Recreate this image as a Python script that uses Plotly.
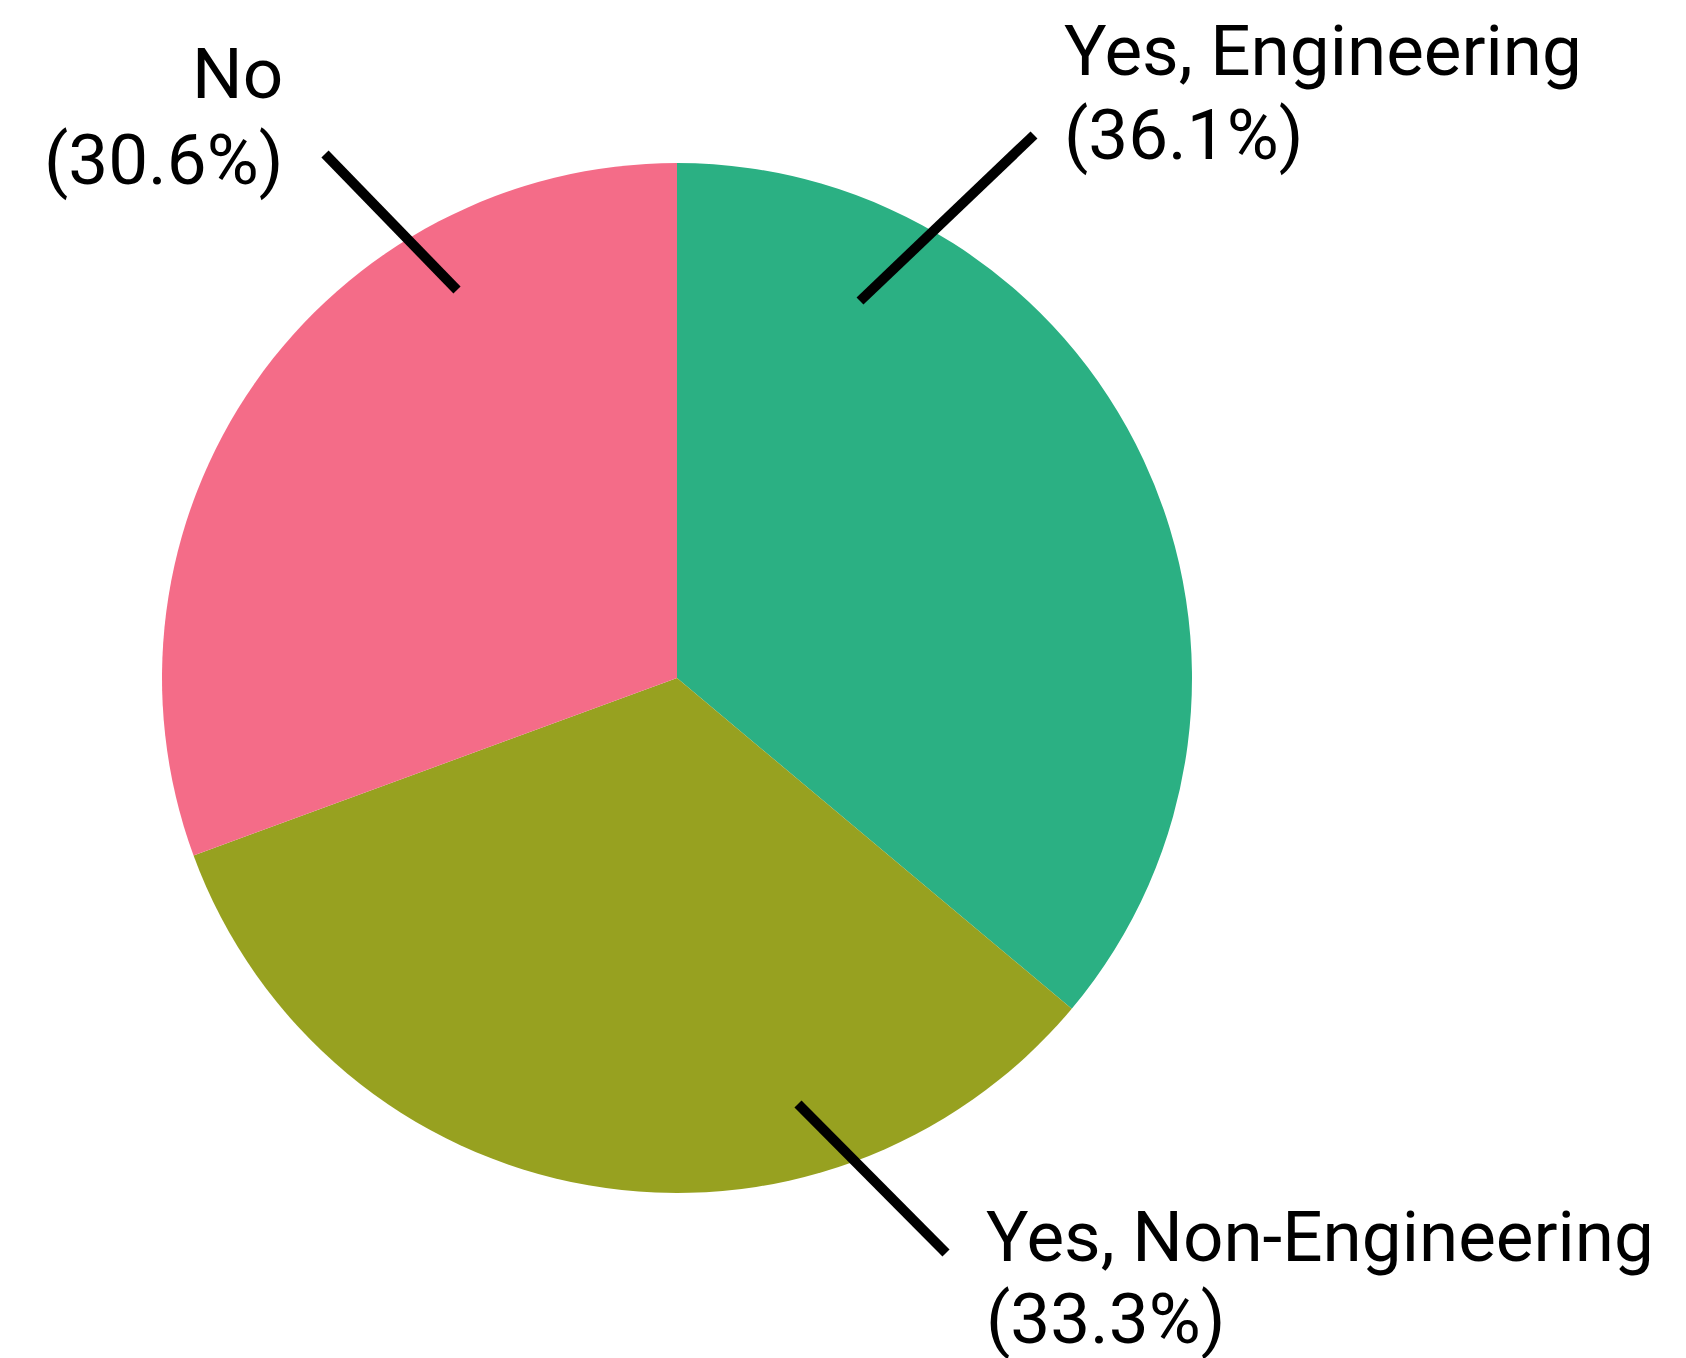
import plotly.graph_objects as go

W, H = 1686, 1358

labels = ["Yes, Engineering", "Yes, Non-Engineering", "No"]
values = [36.1, 33.3, 30.6]
colors = ["#2BB083", "#97A120", "#F46C88"]

# label layout (pixel positions of text and leader lines)
label_pos = {
    "Yes, Engineering": dict(x=1062, y1=51, y2=135, anchor="left",
                             line=((860, 301), (1034, 135))),
    "Yes, Non-Engineering": dict(x=984, y1=1236, y2=1318, anchor="left",
                                 line=((798, 1104), (946, 1253))),
    "No": dict(x=285, y1=73, y2=159, anchor="right",
               line=((457, 290), (325, 154))),
}

cx, cy, r = 677, 678, 515

def px(x):
    return x / W

def py(y):
    return 1 - y / H

fig = go.Figure(go.Pie(
    labels=labels, values=values, sort=False, direction="clockwise",
    rotation=0, marker=dict(colors=colors, line=dict(width=0)),
    textinfo="none", hoverinfo="label+percent", showlegend=False,
    domain=dict(x=[px(cx - r), px(cx + r)], y=[py(cy + r), py(cy - r)]),
))

FONT = dict(family="Roboto, Arial, sans-serif", size=71, color="#000000")
shapes = []
annotations = []
for lab, v in zip(labels, values):
    p = label_pos[lab]
    (x0, y0), (x1, y1) = p["line"]
    shapes.append(dict(type="line", xref="paper", yref="paper",
                       x0=px(x0), y0=py(y0), x1=px(x1), y1=py(y1),
                       line=dict(color="black", width=10)))
    for txt, yy in ((lab, p["y1"]), (f"({v:.1f}%)", p["y2"])):
        annotations.append(dict(text=txt, xref="paper", yref="paper",
                                x=px(p["x"]), y=py(yy), xanchor=p["anchor"],
                                yanchor="middle", showarrow=False, font=FONT,
                                align=p["anchor"]))

fig.update_layout(width=W, height=H, margin=dict(l=0, r=0, t=0, b=0),
                  paper_bgcolor="white", plot_bgcolor="white",
                  shapes=shapes, annotations=annotations)
fig.write_html("out.html", config={"displayModeBar": False},
               post_script="document.body.style.margin='0';"
                           "document.body.style.overflow='hidden';")
